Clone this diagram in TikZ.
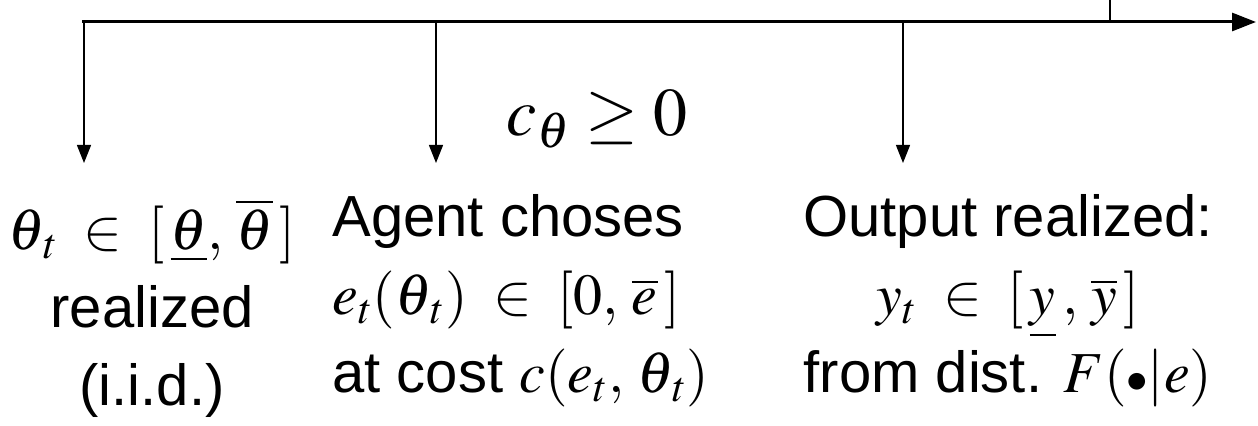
\documentclass[tikz,border=0pt]{standalone}
\usepackage{mathptmx}
\usepackage[no-math]{fontspec}
\setmainfont{Liberation Sans}
\usetikzlibrary{arrows.meta,positioning}
\newcommand{\thetat}{\theta_{\mkern2mu t}}

\begin{document}
\begin{tikzpicture}[x=0.5pt,y=-0.5pt,>={Triangle[length=9pt,width=7pt]},
    stage/.style={font=\fontsize{29}{39}\selectfont,inner sep=0pt,anchor=base},
    drop/.style={->,line width=0.6pt}]
  \useasboundingbox (0,0) rectangle (1258,426);
  % time line
  \coordinate (start) at (82,22);
  \coordinate (end) at (1256,22);
  \coordinate (tick) at (1110,0);
  \draw[line width=1.5pt,-{Triangle[length=12pt,width=9pt]}] (start) -- (end);
  \draw[line width=0.6pt] (tick) -- (tick|-start);
  % events
  \foreach \x/\name in {84/type,436/effort,903/output}{
    \coordinate (\name top) at (\x,22);
    \coordinate (\name tip) at (\x,163);
    \draw[drop] (\name top) -- (\name tip);}
  \node[font=\fontsize{34}{40}\selectfont,inner sep=0pt,anchor=base] (cost) at (597,136) {$c_\theta\geq 0$};
  % base of a multi-line node = its last line
  \node[stage,align=center] (typenode) at (152,406)
    {$\thetat\;\in\;[\,\underline{\theta},\,\overline{\theta}\,]$\\realized\\(i.i.d.)};
  \node[stage,anchor=base west,align=left] (effortnode) at (332,393)
    {Agent choses\\$e_t(\thetat)\;\in\;[0,\,\overline{e}\,]$\\at cost $c(e_t,\,\thetat)$};
  \node[stage,align=center] (outputnode) at (1008,393)
    {Output realized:\\$y_t\;\in\;[\,\underline{y}\,,\,\overline{y}\,]$\hspace{1.2em}\\from dist. $F({\scriptstyle\bullet}|e)$};
\end{tikzpicture}
\end{document}
